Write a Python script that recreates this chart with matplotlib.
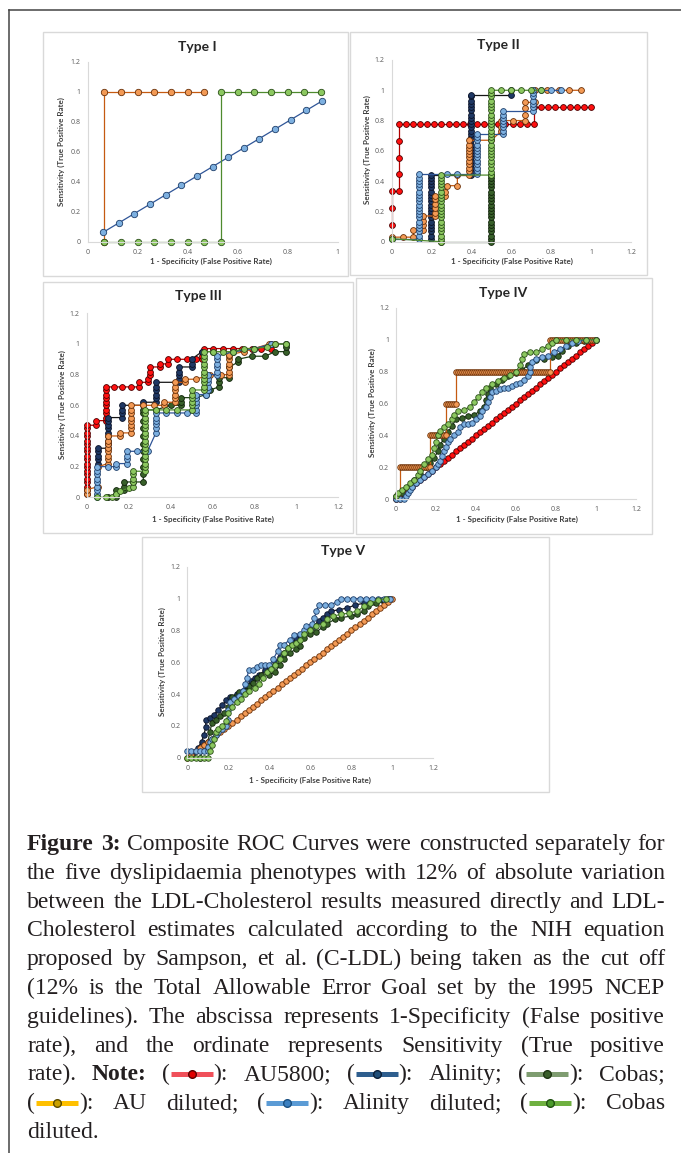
import re
import matplotlib
matplotlib.use("Agg")
import matplotlib.pyplot as plt
from matplotlib.patches import Rectangle
from matplotlib.lines import Line2D
from matplotlib.font_manager import FontProperties

# ======================= DATA =======================
TICKS_X1 = [0, 0.2, 0.4, 0.6, 0.8, 1]
TICKS_X2 = [0, 0.2, 0.4, 0.6, 0.8, 1, 1.2]
TICKS_Y = [0, 0.2, 0.4, 0.6, 0.8, 1, 1.2]

# ---- Type I ----
t1_audil_x = [0.0667, 0.0667, 0.1333, 0.2, 0.2667, 0.3333, 0.4, 0.4667]
t1_audil_y = [0, 1, 1, 1, 1, 1, 1, 1]
t1_alidil_x = [0.0625, 0.125, 0.1875, 0.25, 0.3125, 0.375, 0.4375, 0.5, 0.5625, 0.625, 0.6875, 0.75, 0.8125, 0.875, 0.9375]
t1_alidil_y = [0.0625, 0.125, 0.1875, 0.25, 0.3125, 0.375, 0.4375, 0.5, 0.5625, 0.625, 0.6875, 0.75, 0.8125, 0.875, 0.9375]
t1_cobdil_x = [0.0667, 0.1333, 0.2, 0.2667, 0.3333, 0.4, 0.4667, 0.5333, 0.5333, 0.6, 0.6667, 0.7333, 0.8, 0.8667, 0.9333]
t1_cobdil_y = [0, 0, 0, 0, 0, 0, 0, 0, 1, 1, 1, 1, 1, 1, 1]

# ---- Type II ----
t2_au_x = [0, 0, 0, 0.036, 0.036, 0.036, 0.036, 0.036,
           0.071, 0.107, 0.143, 0.179, 0.214, 0.25, 0.286, 0.321, 0.357, 0.393, 0.429, 0.464,
           0.5, 0.536, 0.571, 0.607, 0.643, 0.679, 0.714,
           0.714, 0.75, 0.786, 0.821, 0.857, 0.893, 0.929, 0.964, 1.0]
t2_au_y = [0.111, 0.222, 0.333, 0.333, 0.444, 0.556, 0.667, 0.778] + [0.778] * 19 + [0.889] * 9
t2_al_x = [0.2] * 20 + [0.4] * 25 + [0.6, 0.6]
t2_al_y = [0.02, 0.04, 0.07, 0.09, 0.11, 0.13, 0.16, 0.18, 0.2, 0.22, 0.24, 0.27, 0.29, 0.31, 0.33,
           0.36, 0.38, 0.4, 0.42, 0.44,
           0.44, 0.46, 0.49, 0.51, 0.53, 0.56, 0.58, 0.6, 0.62, 0.64, 0.67, 0.69, 0.71, 0.73, 0.76,
           0.78, 0.8, 0.82, 0.84, 0.87, 0.89, 0.91, 0.93, 0.96, 0.97,
           0.97, 1.0]
t2_cob_x = [0.25, 0.5] + [0.5] * 20
t2_cob_y = [0, 0, 0.02, 0.04, 0.07, 0.09, 0.11, 0.13, 0.16, 0.18, 0.2, 0.22, 0.24, 0.27, 0.29, 0.31,
            0.33, 0.36, 0.38, 0.4, 0.42, 0.44]
t2_audil_x = [0, 0.06, 0.11, 0.11, 0.16, 0.16, 0.16, 0.16, 0.22, 0.22, 0.22, 0.22, 0.22, 0.22,
              0.27, 0.27, 0.28, 0.33, 0.33, 0.39, 0.39, 0.39, 0.39, 0.39, 0.39, 0.39, 0.39, 0.39,
              0.39, 0.39, 0.5, 0.55, 0.55, 0.55, 0.61, 0.67, 0.67, 0.67, 0.67, 0.72, 0.72, 0.78,
              0.84, 0.89, 0.95]
t2_audil_y = [0.03, 0.03, 0.03, 0.08, 0.08, 0.11, 0.14, 0.17, 0.17, 0.19, 0.22, 0.25, 0.28, 0.3,
              0.3, 0.33, 0.37, 0.37, 0.44, 0.44, 0.47, 0.49, 0.51, 0.53, 0.56, 0.58, 0.6, 0.62,
              0.64, 0.67, 0.67, 0.73, 0.76, 0.8, 0.8, 0.8, 0.84, 0.88, 0.92, 0.92, 1.0, 1.0,
              1.0, 1.0, 1.0]
t2_alidil_x = [0, 0.14] + [0.14] * 19 + [0.28, 0.33, 0.43] + [0.43] * 12 + [0.56] + [0.56] * 7 \
              + [0.71] + [0.71] * 6 + [0.75, 0.8, 0.85]
t2_alidil_y = [0.02, 0.02, 0.04, 0.07, 0.09, 0.11, 0.13, 0.16, 0.18, 0.2, 0.22, 0.24, 0.27, 0.29,
               0.31, 0.33, 0.36, 0.38, 0.4, 0.42, 0.45,
               0.45, 0.45, 0.45,
               0.47, 0.49, 0.51, 0.53, 0.56, 0.58, 0.6, 0.62, 0.64, 0.67, 0.69, 0.71,
               0.71, 0.73, 0.76, 0.78, 0.8, 0.82, 0.84, 0.86,
               0.86, 0.89, 0.91, 0.93, 0.96, 0.98, 1.0,
               1.0, 1.0, 1.0]
t2_cobdil_x = [0, 0.25] + [0.25] * 20 + [0.5] * 26 + [0.55, 0.6, 0.65, 0.7, 0.75]
t2_cobdil_y = [0.02, 0.0, 0.02, 0.04, 0.07, 0.09, 0.11, 0.13, 0.16, 0.18, 0.2, 0.22, 0.24, 0.27,
               0.29, 0.31, 0.33, 0.36, 0.38, 0.4, 0.42, 0.44,
               0.44, 0.46, 0.49, 0.51, 0.53, 0.56, 0.58, 0.6, 0.62, 0.64, 0.67, 0.69, 0.71, 0.73,
               0.76, 0.78, 0.8, 0.82, 0.84, 0.87, 0.89, 0.91, 0.93, 0.96, 0.98, 1.0,
               1.0, 1.0, 1.0, 1.0, 1.0]

# ---- Type III ----
t3_au_x = [0] * 19 + [0.045, 0.045, 0.09] + [0.09] * 9 + \
          [0.13, 0.17, 0.21, 0.25, 0.25, 0.29, 0.29, 0.3, 0.3, 0.3, 0.35, 0.35, 0.39, 0.39, 0.43,
           0.48, 0.52, 0.55, 0.55, 0.55, 0.56, 0.6, 0.65, 0.7, 0.74, 0.79, 0.83, 0.88, 0.88]
t3_au_y = [0.02, 0.05, 0.07, 0.1, 0.12, 0.15, 0.17, 0.2, 0.22, 0.25, 0.27, 0.3, 0.32, 0.35, 0.37,
           0.4, 0.42, 0.45, 0.47, 0.47, 0.5, 0.5, 0.52, 0.55, 0.57, 0.6, 0.62, 0.65, 0.67, 0.7,
           0.72, 0.72, 0.72, 0.72, 0.72, 0.75, 0.75, 0.77, 0.8, 0.82, 0.85, 0.85, 0.87, 0.87,
           0.9, 0.9, 0.9, 0.9, 0.9, 0.92, 0.95, 0.97, 0.97, 0.97, 0.97, 0.97, 0.97, 0.97, 0.97,
           1.0]
t3_al_x = [0.056] * 5 + [0.1] * 9 + [0.17] * 4 + [0.27, 0.27, 0.33] + [0.33] * 5 + [0.44] * 5 + \
          [0.5] * 3 + [0.55, 0.6, 0.7, 0.8, 0.9, 0.95]
t3_al_y = [0.22, 0.25, 0.27, 0.3, 0.32, 0.32, 0.35, 0.37, 0.4, 0.42, 0.45, 0.47, 0.5, 0.52,
           0.52, 0.55, 0.57, 0.6, 0.6, 0.62, 0.62, 0.65, 0.67, 0.7, 0.72, 0.75,
           0.75, 0.77, 0.8, 0.82, 0.85, 0.85, 0.87, 0.9, 0.95, 0.95, 0.95, 0.97, 1.0, 1.0]
t3_cob_x = [0.1, 0.14, 0.14, 0.14, 0.18, 0.18, 0.18, 0.22, 0.27] + [0.27] * 10 + \
           [0.33, 0.4, 0.45, 0.45, 0.45, 0.52, 0.57, 0.59, 0.63, 0.63, 0.63, 0.68, 0.68, 0.72,
            0.72, 0.79, 0.85, 0.9, 0.95, 0.95, 0.95]
t3_cob_y = [0, 0, 0.02, 0.05, 0.05, 0.07, 0.1, 0.1, 0.1, 0.15, 0.2, 0.25, 0.3, 0.35, 0.4, 0.45,
            0.5, 0.55, 0.57, 0.57, 0.6, 0.6, 0.62, 0.65, 0.65, 0.67, 0.7, 0.72, 0.75, 0.78,
            0.78, 0.85, 0.88, 0.9, 0.92, 0.92, 0.95, 0.95, 0.98, 1.0]
t3_audil_x = [0, 0, 0.056, 0.056] + [0.1] * 8 + [0.16, 0.16, 0.21] + [0.21] * 7 + \
             [0.27, 0.32, 0.37, 0.37, 0.42] + [0.42] * 5 + [0.47, 0.47, 0.52, 0.59, 0.64, 0.68] + \
             [0.68] * 6 + [0.75, 0.87, 0.9]
t3_audil_y = [0.02, 0.05, 0.07, 0.2, 0.22, 0.25, 0.27, 0.3, 0.32, 0.35, 0.37, 0.4, 0.4, 0.42,
              0.42, 0.45, 0.47, 0.5, 0.52, 0.55, 0.57, 0.6, 0.6, 0.6, 0.6, 0.62, 0.62, 0.65,
              0.67, 0.7, 0.72, 0.75, 0.75, 0.77, 0.77, 0.8, 0.8, 0.8, 0.82, 0.85, 0.87, 0.9,
              0.92, 0.93, 0.95, 1.0, 1.0]
t3_alidil_x = [0.048] * 9 + [0.1, 0.14, 0.14, 0.19] + [0.19] * 3 + [0.24, 0.29, 0.33] + \
              [0.33] * 5 + [0.38, 0.43, 0.48, 0.52] + [0.52] * 5 + [0.57, 0.58] + [0.58] * 4 + \
              [0.62] + [0.62] * 5 + [0.7, 0.8, 0.88]
t3_alidil_y = [0.0, 0.02, 0.05, 0.07, 0.1, 0.12, 0.15, 0.17, 0.2, 0.2, 0.2, 0.22, 0.22, 0.25,
               0.27, 0.3, 0.3, 0.3, 0.42, 0.45, 0.48, 0.5, 0.52, 0.55, 0.55, 0.55, 0.55, 0.55,
               0.57, 0.6, 0.62, 0.65, 0.67, 0.67, 0.7, 0.72, 0.75, 0.77, 0.8, 0.8, 0.82, 0.85,
               0.87, 0.9, 0.92, 0.95, 0.97, 1.0]
t3_cobdil_x = [0.05, 0.09, 0.12, 0.14, 0.16, 0.2, 0.22] + [0.22] * 4 + [0.28] + [0.28] * 16 + \
              [0.33, 0.38, 0.43, 0.5] + [0.5] * 5 + [0.56] + [0.56] * 10 + \
              [0.6, 0.65, 0.7, 0.75, 0.8, 0.86, 0.9, 0.95]
t3_cobdil_y = [0, 0, 0, 0.02, 0.04, 0.06, 0.07, 0.1, 0.12, 0.15, 0.17, 0.17, 0.2, 0.22, 0.25,
               0.27, 0.3, 0.32, 0.35, 0.37, 0.4, 0.42, 0.45, 0.47, 0.5, 0.52, 0.55, 0.57, 0.57,
               0.57, 0.57, 0.57, 0.6, 0.62, 0.65, 0.67, 0.7, 0.7, 0.72, 0.75, 0.77, 0.8, 0.82,
               0.85, 0.87, 0.9, 0.92, 0.95, 0.95, 0.95, 0.95, 0.97, 0.97, 0.98, 1.0, 1.0]

# ---- Type IV ----
t4_au_x = [0.0, 0.02, 0.04, 0.06, 0.08, 0.1, 0.12, 0.14, 0.16, 0.18, 0.2, 0.22, 0.24, 0.26, 0.28,
           0.3, 0.32, 0.34, 0.36, 0.38, 0.4, 0.42, 0.44, 0.46, 0.48, 0.5, 0.52, 0.54, 0.56, 0.58,
           0.6, 0.62, 0.64, 0.66, 0.68, 0.7, 0.72, 0.74, 0.76, 0.78, 0.8, 0.82, 0.84, 0.86, 0.88,
           0.9, 0.92, 0.94, 0.96, 0.98, 1.0]
t4_au_y = [0.0, 0.02, 0.04, 0.06, 0.08, 0.1, 0.12, 0.14, 0.16, 0.18, 0.2, 0.22, 0.24, 0.26, 0.28,
           0.3, 0.32, 0.34, 0.36, 0.38, 0.4, 0.42, 0.44, 0.46, 0.48, 0.5, 0.52, 0.54, 0.56, 0.58,
           0.6, 0.62, 0.64, 0.66, 0.68, 0.7, 0.72, 0.74, 0.76, 0.78, 0.8, 0.82, 0.84, 0.86, 0.88,
           0.9, 0.92, 0.94, 0.96, 0.98, 1.0]
t4_audil_x = [0.0, 0.02,
              0.02, 0.03, 0.04, 0.05, 0.06, 0.07, 0.08, 0.09, 0.1, 0.11, 0.12, 0.13, 0.14, 0.15,
              0.16, 0.17,
              0.17, 0.18, 0.19, 0.2, 0.21, 0.22, 0.23, 0.24, 0.25,
              0.25, 0.26, 0.27, 0.28, 0.29, 0.3,
              0.3, 0.31, 0.32, 0.33, 0.34, 0.35, 0.36, 0.37, 0.38, 0.39, 0.4, 0.41, 0.42, 0.43,
              0.44, 0.45, 0.46, 0.47, 0.48, 0.49, 0.5, 0.51, 0.52, 0.53, 0.54, 0.55, 0.56, 0.57,
              0.58, 0.59, 0.6, 0.61, 0.62, 0.63, 0.64, 0.65, 0.66, 0.67, 0.68, 0.69, 0.7, 0.71,
              0.72, 0.73, 0.74, 0.75, 0.76, 0.77,
              0.77, 0.78, 0.79, 0.8, 0.81, 0.82, 0.83, 0.84, 0.85, 0.86, 0.87, 0.88, 0.89, 0.9,
              0.91, 0.92, 0.93, 0.94, 0.95, 0.96, 0.97, 0.98, 0.99, 1.0]
t4_audil_y = [0, 0] + [0.2] * 16 + [0.4] * 9 + [0.6] * 6 + [0.8] * 48 + [1.0] * 24
t4_alidil_pts = [(0.0, 0.0), (0.02, 0.0), (0.04, 0.0), (0.05, 0.02), (0.06, 0.04), (0.07, 0.06),
                 (0.08, 0.08), (0.1, 0.1), (0.12, 0.12), (0.14, 0.14), (0.16, 0.16), (0.18, 0.18),
                 (0.2, 0.2), (0.21, 0.22), (0.22, 0.24), (0.23, 0.27), (0.24, 0.3), (0.25, 0.33),
                 (0.26, 0.36), (0.27, 0.38), (0.29, 0.4), (0.31, 0.42), (0.32, 0.45), (0.34, 0.47),
                 (0.36, 0.47), (0.38, 0.48), (0.4, 0.5), (0.42, 0.52), (0.43, 0.55), (0.45, 0.58),
                 (0.46, 0.61), (0.47, 0.64), (0.48, 0.67), (0.5, 0.68), (0.52, 0.69), (0.54, 0.7),
                 (0.56, 0.7), (0.58, 0.71), (0.6, 0.72), (0.62, 0.73), (0.64, 0.75), (0.66, 0.77),
                 (0.67, 0.8), (0.67, 0.83), (0.68, 0.86), (0.7, 0.88), (0.73, 0.89), (0.76, 0.9),
                 (0.79, 0.92), (0.82, 0.94), (0.85, 0.96), (0.88, 0.98), (0.91, 0.99), (0.95, 1.0),
                 (1.0, 1.0)]
t4_cob_pts = [(0.0, 0.02), (0.03, 0.04), (0.06, 0.08), (0.09, 0.12), (0.12, 0.16), (0.15, 0.2),
              (0.17, 0.23), (0.19, 0.26), (0.21, 0.3), (0.22, 0.34), (0.24, 0.38), (0.26, 0.42),
              (0.28, 0.46), (0.3, 0.5), (0.33, 0.51), (0.36, 0.52), (0.39, 0.53), (0.42, 0.55),
              (0.44, 0.58), (0.45, 0.62), (0.46, 0.66), (0.47, 0.7), (0.5, 0.72), (0.53, 0.75),
              (0.56, 0.77), (0.6, 0.79), (0.63, 0.81), (0.66, 0.84), (0.7, 0.87), (0.74, 0.88),
              (0.78, 0.89), (0.81, 0.9), (0.83, 0.93), (0.86, 0.96), (0.9, 0.98), (0.94, 0.99),
              (1.0, 1.0)]
t4_cobdil_pts = [(0.0, 0.02), (0.01, 0.04), (0.03, 0.06), (0.05, 0.08), (0.07, 0.1), (0.09, 0.12),
                 (0.11, 0.15), (0.12, 0.18), (0.14, 0.22), (0.16, 0.25), (0.18, 0.28), (0.19, 0.32),
                 (0.2, 0.36), (0.21, 0.4), (0.22, 0.43), (0.24, 0.45), (0.26, 0.47), (0.28, 0.5),
                 (0.29, 0.53), (0.31, 0.55), (0.34, 0.56), (0.37, 0.58), (0.39, 0.61), (0.41, 0.64),
                 (0.43, 0.67), (0.45, 0.7), (0.48, 0.72), (0.51, 0.74), (0.54, 0.76), (0.57, 0.78),
                 (0.6, 0.8), (0.62, 0.84), (0.63, 0.88), (0.64, 0.91), (0.67, 0.92), (0.7, 0.92),
                 (0.73, 0.94), (0.76, 0.96), (0.78, 0.98), (0.8, 1.0), (0.85, 1.0), (0.9, 1.0),
                 (0.95, 1.0), (1.0, 1.0)]

# ---- Type V ----
t5_audil_x = [0.0, 0.02, 0.04, 0.06, 0.08, 0.1, 0.12, 0.14, 0.16, 0.18, 0.2, 0.22, 0.24, 0.26,
              0.28, 0.3, 0.32, 0.34, 0.36, 0.38, 0.4, 0.42, 0.44, 0.46, 0.48, 0.5, 0.52, 0.54,
              0.56, 0.58, 0.6, 0.62, 0.64, 0.66, 0.68, 0.7, 0.72, 0.74, 0.76, 0.78, 0.8, 0.82,
              0.84, 0.86, 0.88, 0.9, 0.92, 0.94, 0.96, 0.98, 1.0]
t5_audil_y = [0.0, 0.02, 0.04, 0.06, 0.08, 0.1, 0.12, 0.14, 0.16, 0.18, 0.2, 0.22, 0.24, 0.26,
              0.28, 0.3, 0.32, 0.34, 0.36, 0.38, 0.4, 0.42, 0.44, 0.46, 0.48, 0.5, 0.52, 0.54,
              0.56, 0.58, 0.6, 0.62, 0.64, 0.66, 0.68, 0.7, 0.72, 0.74, 0.76, 0.78, 0.8, 0.82,
              0.84, 0.86, 0.88, 0.9, 0.92, 0.94, 0.96, 0.98, 1.0]
t5_alidil_pts = [(0.0, 0.04), (0.02, 0.04), (0.04, 0.04), (0.06, 0.04), (0.08, 0.04), (0.1, 0.04),
                 (0.1, 0.07), (0.11, 0.1), (0.12, 0.12), (0.14, 0.14), (0.15, 0.16), (0.17, 0.18),
                 (0.19, 0.2), (0.2, 0.24), (0.2, 0.3), (0.21, 0.35), (0.23, 0.37), (0.25, 0.39),
                 (0.27, 0.42), (0.28, 0.46), (0.29, 0.5), (0.3, 0.55), (0.32, 0.55), (0.34, 0.57),
                 (0.36, 0.58), (0.38, 0.58), (0.4, 0.58), (0.42, 0.62), (0.44, 0.67), (0.45, 0.71),
                 (0.47, 0.71), (0.5, 0.74), (0.52, 0.77), (0.55, 0.78), (0.57, 0.8), (0.58, 0.83),
                 (0.61, 0.84), (0.62, 0.88), (0.63, 0.92), (0.64, 0.96), (0.67, 0.96), (0.7, 0.96),
                 (0.73, 0.98), (0.75, 1.0), (0.78, 1.0), (0.81, 1.0), (0.84, 1.0), (0.87, 1.0),
                 (0.9, 1.0), (0.93, 1.0), (0.96, 1.0), (0.99, 1.0)]
t5_al_pts = [(0.03, 0.03), (0.05, 0.06), (0.07, 0.1), (0.08, 0.14), (0.09, 0.19), (0.09, 0.24),
             (0.11, 0.25), (0.13, 0.27), (0.15, 0.3), (0.17, 0.33), (0.19, 0.36), (0.21, 0.38),
             (0.24, 0.4), (0.27, 0.42), (0.29, 0.45), (0.31, 0.48), (0.33, 0.5), (0.35, 0.52),
             (0.38, 0.55), (0.41, 0.57), (0.43, 0.6), (0.45, 0.63), (0.47, 0.66), (0.49, 0.69),
             (0.51, 0.72), (0.53, 0.75), (0.55, 0.77), (0.57, 0.78), (0.6, 0.8), (0.62, 0.83),
             (0.64, 0.86), (0.66, 0.88), (0.68, 0.9), (0.7, 0.92), (0.74, 0.93), (0.78, 0.94),
             (0.82, 0.96), (0.86, 0.97), (0.9, 0.98), (0.95, 0.99), (0.98, 1.0)]
t5_cob_pts = [(0.06, 0.0), (0.08, 0.05), (0.1, 0.1), (0.11, 0.16), (0.12, 0.22), (0.14, 0.24),
              (0.16, 0.26), (0.18, 0.28), (0.2, 0.32), (0.22, 0.38), (0.25, 0.41), (0.28, 0.42),
              (0.3, 0.45), (0.32, 0.47), (0.34, 0.5), (0.36, 0.52), (0.4, 0.52), (0.43, 0.54),
              (0.45, 0.58), (0.47, 0.62), (0.5, 0.66), (0.53, 0.68), (0.55, 0.7), (0.57, 0.75),
              (0.6, 0.78), (0.63, 0.79), (0.66, 0.82), (0.68, 0.84), (0.72, 0.87), (0.75, 0.88),
              (0.8, 0.89), (0.83, 0.9), (0.86, 0.92), (0.88, 0.95), (0.92, 0.97), (0.96, 0.99),
              (0.99, 1.0)]
t5_cobdil_pts = [(0.0, 0.0), (0.02, 0.0), (0.04, 0.0), (0.06, 0.0), (0.08, 0.0), (0.1, 0.0),
                 (0.11, 0.04), (0.12, 0.08), (0.13, 0.12), (0.14, 0.16), (0.15, 0.18), (0.17, 0.2),
                 (0.19, 0.23), (0.2, 0.28), (0.22, 0.32), (0.24, 0.35), (0.26, 0.37), (0.28, 0.4),
                 (0.3, 0.42), (0.33, 0.44), (0.35, 0.46), (0.37, 0.5), (0.39, 0.54), (0.41, 0.56),
                 (0.43, 0.58), (0.45, 0.62), (0.47, 0.66), (0.49, 0.69), (0.51, 0.71), (0.53, 0.72),
                 (0.55, 0.74), (0.57, 0.78), (0.6, 0.8), (0.63, 0.83), (0.66, 0.84), (0.68, 0.87),
                 (0.71, 0.89), (0.75, 0.9), (0.79, 0.91), (0.83, 0.92), (0.86, 0.95), (0.89, 0.97),
                 (0.93, 0.99), (0.97, 1.0)]

# caption text ('§' marks bold words, {n} marks a legend glyph)
CAPTION = [
    "§Figure §3: Composite ROC Curves were constructed separately for",
    "the five dyslipidaemia phenotypes with 12% of absolute variation",
    "between the LDL-Cholesterol results measured directly and LDL-",
    "Cholesterol estimates calculated according to the NIH equation",
    "proposed by Sampson, et al. (C-LDL) being taken as the cut off",
    "(12% is the Total Allowable Error Goal set by the 1995 NCEP",
    "guidelines). The abscissa represents 1-Specificity (False positive",
    "rate), and the ordinate represents Sensitivity (True positive",
    "rate). §Note: ({0}): AU5800; ({1}): Alinity; ({2}): Cobas;",
    "({3}): AU diluted; ({4}): Alinity diluted; ({5}): Cobas",
    "diluted.",
]

# ======================= STYLE / LAYOUT =======================
W, H = 681, 1153
fig = plt.figure(figsize=(W / 100, H / 100), dpi=100)
fig.patch.set_facecolor("white")
CHART_FONT = "Lato"
TICK_FONT = "Open Sans"

STYLE = {
    "AU5800":          dict(color="#B00000", mfc="#FF1010", mec="#4A0000"),
    "Alinity":         dict(color="#151515", mfc="#1F3864", mec="#0A1228"),
    "Cobas":           dict(color="#22401A", mfc="#38602A", mec="#10220A"),
    "AU diluted":      dict(color="#C55A11", mfc="#F39A55", mec="#6A3008"),
    "Alinity diluted": dict(color="#2F5597", mfc="#7DB0E0", mec="#1F3F6A"),
    "Cobas diluted":   dict(color="#4E8A2E", mfc="#8CC860", mec="#2A4E18"),
}


def px_rect(x0, y0, x1, y1):
    return [x0 / W, 1 - y1 / H, (x1 - x0) / W, (y1 - y0) / H]


def tick_label(v):
    if v == 0:
        return "0"
    if v == 1:
        return "1"
    return f"{v:.1f}"


def panel(box, title, title_xy, xpix, ypix, xmax, xticks, series, xlab_xy, ylab_xy, ms=4.2):
    bx0, by0, bx1, by1 = box
    fig.add_artist(Rectangle((bx0 / W, 1 - by1 / H), (bx1 - bx0) / W, (by1 - by0) / H,
                             transform=fig.transFigure, fill=False, ec="#D9D9D9", lw=1.0))
    fig.text(title_xy[0] / W, 1 - title_xy[1] / H, title, ha="center", va="center",
             fontsize=10, fontweight="bold", family=CHART_FONT, color="#262626")
    ax = fig.add_axes(px_rect(xpix[0], ypix[1], xpix[1], ypix[0]))
    ax.set_xlim(0, xmax)
    ax.set_ylim(0, 1.2)
    ax.patch.set_alpha(0)
    for s in ("top", "right"):
        ax.spines[s].set_visible(False)
    for s in ("left", "bottom"):
        ax.spines[s].set_color("#D9D9D9")
        ax.spines[s].set_linewidth(0.8)
    ax.set_xticks(xticks)
    ax.set_xticklabels([tick_label(v) for v in xticks])
    ax.set_yticks(TICKS_Y)
    ax.set_yticklabels([tick_label(v) for v in TICKS_Y])
    ax.tick_params(length=0, labelsize=5, labelcolor="#595959", pad=5)
    for lab in ax.get_xticklabels() + ax.get_yticklabels():
        lab.set_family(TICK_FONT)
    for name, xs, ys in series:
        st = STYLE[name]
        ax.plot(xs, ys, color=st["color"], lw=0.9, marker="o", ms=ms, mfc=st["mfc"],
                mec=st["mec"], mew=0.6, clip_on=False)
    fig.text(xlab_xy[0] / W, 1 - xlab_xy[1] / H, "1 - Specificity (False Positive Rate)",
             ha="center", va="center", fontsize=5.8, fontweight="bold", family=CHART_FONT,
             color="#404040")
    fig.text(ylab_xy[0] / W, 1 - ylab_xy[1] / H, "Sensitivity (True Positive Rate)",
             ha="center", va="center", rotation=90, fontsize=5.8, fontweight="bold",
             family=CHART_FONT, color="#404040")
    return ax


def unzip(pts):
    return [p[0] for p in pts], [p[1] for p in pts]


panel((43, 32, 348, 276), "Type I", (197, 47), (87.5, 337.5), (241.7, 61.7), 1, TICKS_X1,
      [("AU diluted", t1_audil_x, t1_audil_y),
       ("Alinity diluted", t1_alidil_x, t1_alidil_y),
       ("Cobas diluted", t1_cobdil_x, t1_cobdil_y)],
      (211, 261), (61, 152), ms=4.6)

panel((350, 32, 647, 275), "Type II", (498, 45), (391.5, 631), (241.7, 60), 1.2, TICKS_X2,
      [("AU5800", t2_au_x, t2_au_y),
       ("Alinity", t2_al_x, t2_al_y),
       ("Cobas", t2_cob_x, t2_cob_y),
       ("AU diluted", t2_audil_x, t2_audil_y),
       ("Alinity diluted", t2_alidil_x, t2_alidil_y),
       ("Cobas diluted", t2_cobdil_x, t2_cobdil_y)],
      (512, 261), (367, 150))

panel((43, 282, 353, 533), "Type III", (198, 296), (86.7, 338.3), (497.3, 313.3), 1.2, TICKS_X2,
      [("AU5800", t3_au_x, t3_au_y),
       ("Alinity", t3_al_x, t3_al_y),
       ("Cobas", t3_cob_x, t3_cob_y),
       ("AU diluted", t3_audil_x, t3_audil_y),
       ("Alinity diluted", t3_alidil_x, t3_alidil_y),
       ("Cobas diluted", t3_cobdil_x, t3_cobdil_y)],
      (213, 519), (62, 405))

panel((356, 278, 652, 534), "Type IV", (503, 293), (396, 636), (499.3, 307.7), 1.2, TICKS_X2,
      [("AU5800", t4_au_x, t4_au_y),
       ("Cobas", *unzip(t4_cob_pts)),
       ("AU diluted", t4_audil_x, t4_audil_y),
       ("Alinity diluted", *unzip(t4_alidil_pts)),
       ("Cobas diluted", *unzip(t4_cobdil_pts))],
      (517, 519), (372, 403), ms=4.0)

panel((142, 537, 549, 792), "Type V", (343, 551), (187.3, 433.3), (757.7, 566.7), 1.2, TICKS_X2,
      [("Alinity", *unzip(t5_al_pts)),
       ("Cobas", *unzip(t5_cob_pts)),
       ("AU diluted", t5_audil_x, t5_audil_y),
       ("Alinity diluted", *unzip(t5_alidil_pts)),
       ("Cobas diluted", *unzip(t5_cobdil_pts))],
      (310, 780), (162, 662), ms=4.0)

# ---- outer frame lines (top and left) ----
fig.add_artist(Line2D([9 / W, 1.0], [1 - 10 / H, 1 - 10 / H], transform=fig.transFigure,
                      color="#444444", lw=1.1))
fig.add_artist(Line2D([9 / W, 9 / W], [1 - 10 / H, 0], transform=fig.transFigure,
                      color="#444444", lw=1.1))

# ---- caption (justified) ----
GLYPHS = [("#F0505A", "#E00000", "#5A0000"),
          ("#2E5E8E", "#1F4E79", "#0A1E38"),
          ("#7E9C70", "#3A5F2A", "#1E3512"),
          ("#FFC000", "#C9A000", "#5A4A00"),
          ("#5B9BD5", "#3A7FC0", "#1A4F80"),
          ("#6FB040", "#4A9A2A", "#1F5010")]
GW = 44
X0, X1 = 27, 665
BASE0, LEAD = 850, 28.8
renderer = fig.canvas.get_renderer()


def fprop(bold, fs):
    return FontProperties(family="Liberation Serif", weight="bold" if bold else "normal", size=fs)


def seg_width(seg, fs):
    if seg[0] == "g":
        return GW
    w, h, d = renderer.get_text_width_height_descent(seg[1], fprop(seg[2], fs), ismath=False)
    return w


def parse(line):
    words = []
    for wd in line.split(" "):
        bold = wd.startswith("§")
        wd = wd.lstrip("§")
        segs = []
        for part in re.split(r"(\{\d\})", wd):
            if not part:
                continue
            m = re.fullmatch(r"\{(\d)\}", part)
            if m:
                segs.append(("g", int(m.group(1))))
            else:
                segs.append(("t", part, bold))
        words.append(segs)
    return words


parsed = [parse(l) for l in CAPTION]
fs = 17.0
while fs > 8:
    sp = renderer.get_text_width_height_descent(" ", fprop(False, fs), ismath=False)[0]
    worst = 0
    for words in parsed[:-1]:
        tot = sum(seg_width(s, fs) for w in words for s in w) + sp * 0.8 * (len(words) - 1)
        worst = max(worst, tot)
    if worst <= X1 - X0:
        break
    fs -= 0.25

space_w = renderer.get_text_width_height_descent(" ", fprop(False, fs), ismath=False)[0]
for i, words in enumerate(parsed):
    base = BASE0 + LEAD * i
    widths = [sum(seg_width(s, fs) for s in w) for w in words]
    if i < len(parsed) - 1 and len(words) > 1:
        gap = (X1 - X0 - sum(widths)) / (len(words) - 1)
    else:
        gap = space_w
    x = X0
    for w, wdt in zip(words, widths):
        for s in w:
            sw = seg_width(s, fs)
            if s[0] == "t":
                fig.text(x / W, 1 - base / H, s[1], fontproperties=fprop(s[2], fs),
                         ha="left", va="baseline", color="#231F20")
            else:
                bar, face, edge = GLYPHS[s[1]]
                yy = 1 - (base - 6.5) / H
                fig.add_artist(Line2D([(x + 1) / W, (x + GW - 1) / W], [yy, yy],
                                      transform=fig.transFigure, color=bar, lw=3.6,
                                      solid_capstyle="butt"))
                fig.add_artist(Line2D([(x + GW / 2) / W], [yy], transform=fig.transFigure,
                                      marker="o", ms=5.5, mfc=face, mec=edge, mew=1.0,
                                      linestyle="none"))
            x += sw
        x += gap

fig.savefig("out.png", dpi=100)
